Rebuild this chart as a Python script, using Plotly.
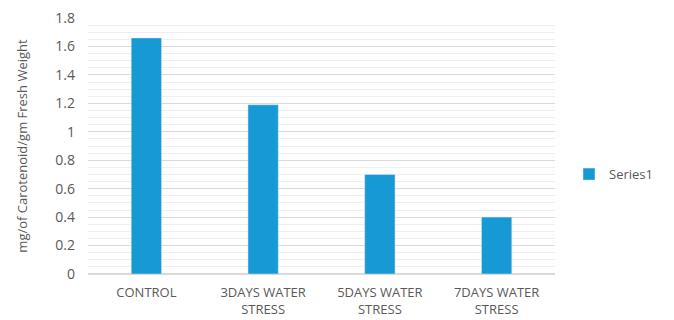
import plotly.graph_objects as go

categories = ["CONTROL", "3DAYS WATER<br>STRESS", "5DAYS WATER<br>STRESS", "7DAYS WATER<br>STRESS"]
values = [1.66, 1.19, 0.70, 0.40]
series_name = "Series1"

fig = go.Figure()
fig.add_trace(go.Bar(x=categories, y=values, name=series_name, marker_color="#1699d4",
                     showlegend=True))

font = dict(family="Open Sans, Liberation Sans, sans-serif", size=13, color="#595959")
fig.update_layout(
    width=674, height=320,
    margin=dict(l=88, r=119, t=18, b=46),
    paper_bgcolor="white", plot_bgcolor="white",
    font=font,
    bargap=0.74,
    showlegend=True,
    legend=dict(x=1.03, y=0.39, xanchor="left", yanchor="middle",
                font=dict(size=13, color="#595959"), itemwidth=30),
    xaxis=dict(showline=True, linecolor="#d9d9d9", ticks="", tickfont=dict(size=13),
               automargin=False, ticklabelstandoff=6),
    yaxis=dict(range=[0, 1.8], dtick=0.2, showgrid=True, gridcolor="#d9d9d9",
               zeroline=True, zerolinecolor="#d9d9d9", automargin=False,
               tickformat="~g", ticks="", tickfont=dict(size=14), ticklabelstandoff=12,
               minor=dict(dtick=0.05, showgrid=True, gridcolor="#eeeeee"),
               title=dict(text="mg/of Carotenoid/gm Fresh Weight", font=dict(size=13), standoff=24)),
)
fig.write_html("out.html", config={"displayModeBar": False},
               post_script="document.body.style.margin='0';")
